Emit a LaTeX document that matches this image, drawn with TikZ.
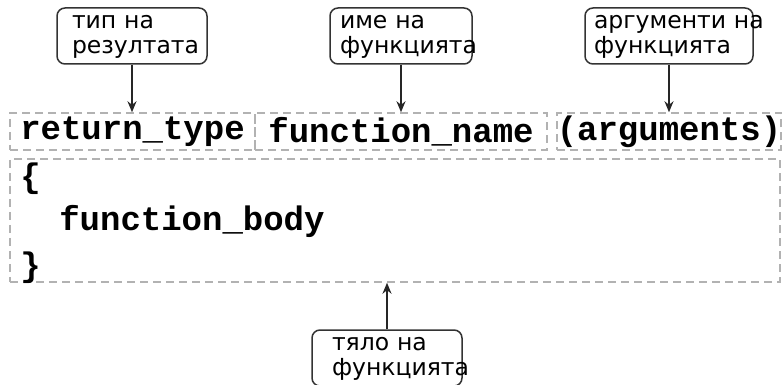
\documentclass[tikz,border=0pt]{standalone}
\usepackage{fontspec}
\newfontfamily\tagfont{DejaVu Sans}
\newfontfamily\codefont{Liberation Mono}
\usetikzlibrary{arrows.meta}

\begin{document}
\begin{tikzpicture}[
        x = 1pt, y = -1pt, % pixel-like units, y grows downwards
        > = {Stealth[length=11pt, width=9pt]}, % arrow head style
        semithick % line style
      ]

      \tikzstyle{codetext}=[inner sep=0pt, font=\fontsize{34}{46}\selectfont\codefont\bfseries]
      \tikzstyle{codebox}=[codetext, rectangle, draw=black!30, line width=1.5pt, dash pattern=on 8pt off 5pt]
      \tikzstyle{tag}=[rectangle, rounded corners=8pt, draw=black!80, line width=1.5pt, align=left, minimum height=56pt, inner ysep=0pt, font=\fontsize{23.5}{25}\selectfont\tagfont]
      \tikzstyle{pointer}=[->, draw=black!85, line width=1.6pt]

      \useasboundingbox (0,0) rectangle (782,385);

      % header of the function
      \node[codebox, minimum width=245pt, minimum height=37pt] (ret) at (132.5,131.5) {return\_type};
      \node[codebox, minimum width=292pt, minimum height=37pt] (name) at (401,131.5) {function\_name};
      \node[codebox, minimum width=224pt, minimum height=37pt] (args) at (669,131.5) {(arguments)};

      % body of the function
      \node[codebox, minimum width=770pt, minimum height=123pt] (body) at (395,220.5) {};
      \node[codetext, anchor=base west] (lbrace) at (20,188) {\{};
      \node[codetext, anchor=base west] (fbody) at (59,230) {function\_body};
      \node[codetext, anchor=base west] (rbrace) at (20,276) {\}};

      % labels
      \node[tag, text width=120pt, inner xsep=15pt] (rettag) at (132,36) {\strut тип~на\\\strut резултата};
      \node[tag, text width=122pt, inner xsep=10pt] (nametag) at (401,36) {\strut име~на\\\strut функцията};
      \node[tag, text width=150pt, inner xsep=9pt] (argstag) at (669,36) {\strut аргументи~на\\\strut функцията};
      \node[tag, text width=110pt, inner xsep=20pt] (bodytag) at (387,358) {\strut тяло~на\\\strut функцията};

      \draw[pointer] (rettag) -- (rettag |- ret.north);
      \draw[pointer] (nametag) -- (nametag |- name.north);
      \draw[pointer] (argstag) -- (argstag |- args.north);
      \draw[pointer] (bodytag) -- (bodytag |- body.south);

    \end{tikzpicture}
\end{document}
